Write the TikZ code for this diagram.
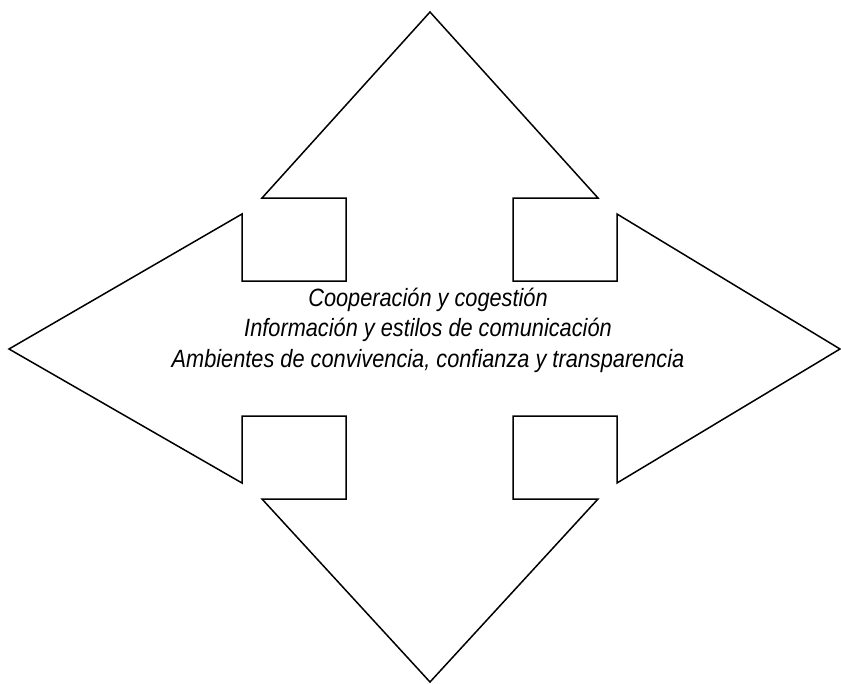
\documentclass[tikz,border=0pt]{standalone}
\usepackage{fontspec}
\setmainfont{Liberation Sans}[FakeStretch=0.87]
\usepackage{tikz}

\begin{document}
\begin{tikzpicture}[x=1pt,y=-1pt]
\tikzstyle{every node}+=[inner sep=0pt]
\tikzstyle{outline}=[black, line width=1.5pt, line join=miter]
\useasboundingbox (0,0) rectangle (841,683);
% four-way arrow
\draw [outline] (430,12) -- (598,198) -- (513,198) -- (513,281) -- (617,281) -- (617,214)
  -- (840,349) -- (617,483) -- (617,416) -- (513,416) -- (513,499) -- (598,499)
  -- (430,682) -- (262,499) -- (346,499) -- (346,416) -- (242,416) -- (242,483)
  -- (9,349) -- (242,214) -- (242,281) -- (346,281) -- (346,198) -- (262,198) -- cycle;
\node (labels) [align=center, font=\fontsize{25}{30.5}\selectfont\itshape] at (428,330)
  {Cooperación y cogestión\\Información y estilos de comunicación\\Ambientes de convivencia, confianza y transparencia};
\end{tikzpicture}
\end{document}
